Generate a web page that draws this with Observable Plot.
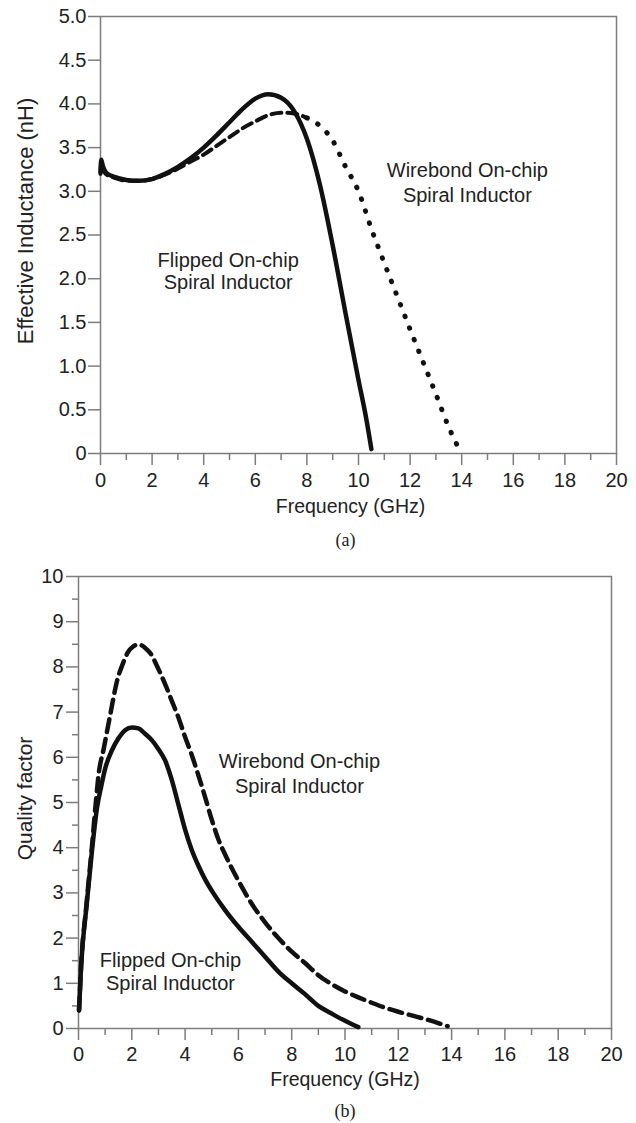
<!DOCTYPE html>
<html>
<head>
<meta charset="utf-8">
<script src="https://cdn.jsdelivr.net/npm/d3@7"></script>
<script src="https://cdn.jsdelivr.net/npm/@observablehq/plot@0.6"></script>
<style>
  body { margin: 0; background: #fff; }
  #chart svg { display: block; }
</style>
</head>
<body>
<div id="chart"></div>
<script>
// ---------- Data (a): effective inductance ----------
const freqFlipA = [0, 0.03, 0.08, 0.2, 0.4, 0.7, 1.0, 1.5, 2.0, 2.5, 3.0, 3.5, 4.0, 4.5, 5.0, 5.5, 6.0, 6.5, 7.0, 7.5, 8.0, 8.5, 9.0, 9.5, 10.0, 10.3, 10.5];
const indFlipA  = [3.22, 3.36, 3.3, 3.22, 3.18, 3.15, 3.13, 3.12, 3.14, 3.2, 3.28, 3.38, 3.5, 3.64, 3.79, 3.94, 4.06, 4.11, 4.07, 3.92, 3.6, 3.08, 2.38, 1.6, 0.84, 0.4, 0.05];

const freqWireA = [0, 0.03, 0.08, 0.2, 0.4, 0.7, 1.0, 1.5, 2.0, 2.5, 3.0, 3.5, 4.0, 4.5, 5.0, 5.5, 6.0, 6.5, 7.0, 7.5, 8.0, 8.5, 9.0, 9.5, 10.0, 10.5, 11.0, 11.5, 12.0, 12.5, 13.0, 13.5, 13.85];
const indWireA  = [3.2, 3.33, 3.28, 3.2, 3.17, 3.14, 3.12, 3.12, 3.14, 3.19, 3.26, 3.34, 3.42, 3.52, 3.62, 3.72, 3.8, 3.87, 3.9, 3.89, 3.84, 3.75, 3.58, 3.28, 3.0, 2.57, 2.18, 1.8, 1.42, 1.05, 0.68, 0.3, 0.08];

// ---------- Data (b): quality factor ----------
const freqFlipB = [0.02, 0.1, 0.3, 0.5, 0.7, 0.85, 1.0, 1.25, 1.5, 1.75, 2.0, 2.25, 2.5, 2.75, 3.0, 3.25, 3.5, 3.75, 4.0, 4.25, 4.5, 4.75, 5.0, 5.5, 6.0, 6.5, 7.0, 7.5, 8.0, 8.5, 9.0, 9.5, 10.0, 10.5];
const qFlipB    = [0.4, 1.4, 2.7, 3.9, 4.9, 5.35, 5.75, 6.15, 6.42, 6.6, 6.66, 6.64, 6.52, 6.38, 6.18, 5.93, 5.5, 4.95, 4.4, 3.95, 3.6, 3.3, 3.05, 2.62, 2.25, 1.92, 1.59, 1.26, 1.0, 0.76, 0.5, 0.33, 0.17, 0.03];

const freqWireB = [0.02, 0.1, 0.3, 0.5, 0.65, 0.75, 0.95, 1.2, 1.45, 1.65, 1.85, 2.05, 2.25, 2.5, 2.7, 3.0, 3.25, 3.5, 3.75, 4.0, 4.25, 4.5, 4.75, 5.0, 5.25, 5.5, 6.0, 6.5, 7.0, 7.5, 8.0, 8.5, 9.0, 9.5, 10.0, 10.5, 11.0, 11.5, 12.0, 12.5, 13.0, 13.5, 13.85];
const qWireB    = [0.4, 1.4, 2.75, 4.0, 5.0, 5.6, 6.2, 6.97, 7.7, 8.05, 8.32, 8.45, 8.5, 8.42, 8.3, 7.95, 7.62, 7.25, 6.88, 6.45, 6.05, 5.6, 5.12, 4.62, 4.18, 3.85, 3.27, 2.76, 2.35, 2.0, 1.7, 1.45, 1.18, 0.98, 0.82, 0.69, 0.57, 0.46, 0.37, 0.29, 0.21, 0.12, 0.05];

// ---------- Ticks and labels ----------
const xTicks = [0, 2, 4, 6, 8, 10, 12, 14, 16, 18, 20];
const xMinorTicks = [1, 3, 5, 7, 9, 11, 13, 15, 17, 19];
const yTicksA = [0, 0.5, 1.0, 1.5, 2.0, 2.5, 3.0, 3.5, 4.0, 4.5, 5.0];
const yTickLabelsA = ["0", "0.5", "1.0", "1.5", "2.0", "2.5", "3.0", "3.5", "4.0", "4.5", "5.0"];
const yTicksB = [0, 1, 2, 3, 4, 5, 6, 7, 8, 9, 10];
const yMinorTicksB = [0.5, 1.5, 2.5, 3.5, 4.5, 5.5, 6.5, 7.5, 8.5, 9.5];

const xTitle = "Frequency (GHz)";
const yTitleA = "Effective Inductance (nH)";
const yTitleB = "Quality factor";
const captionA = "(a)";
const captionB = "(b)";
const flipLabel = "Flipped On-chip\nSpiral Inductor";
const wireLabel = "Wirebond On-chip\nSpiral Inductor";

// ---------- Build ----------
const font = "'Liberation Sans', Arial, Helvetica, sans-serif";
const serif = "'Liberation Serif', 'Times New Roman', serif";
const grey = "#7d7d7d";
const ink = "#111";

const flipA = freqFlipA.map((f, i) => ({f, v: indFlipA[i]}));
const wireA = freqWireA.map((f, i) => ({f, v: indWireA[i]}));
const flipB = freqFlipB.map((f, i) => ({f, v: qFlipB[i]}));
const wireB = freqWireB.map((f, i) => ({f, v: qWireB[i]}));

const plotA = Plot.plot({
  width: 636, height: 560,
  marginLeft: 100, marginRight: 20, marginTop: 16, marginBottom: 107,
  style: {fontFamily: font, fontSize: "20px", color: "#222", background: "#fff"},
  x: {domain: [0, 20]},
  y: {domain: [0, 5]},
  marks: [
    Plot.axisX({ticks: xTicks, tickSize: 12, tickPadding: 7, stroke: grey, strokeWidth: 1.5, label: null, tickFormat: d => String(d)}),
    Plot.axisX({ticks: xMinorTicks, tickSize: 7, text: null, stroke: grey, strokeWidth: 1.5, label: null}),
    Plot.axisY({ticks: yTicksA, tickSize: 12, tickPadding: 2, stroke: grey, strokeWidth: 1.5, label: null,
                tickFormat: d => yTickLabelsA[yTicksA.indexOf(d)]}),
    Plot.frame({stroke: grey, strokeWidth: 1.5}),
    Plot.line(wireA.filter(d => d.f <= 8), {x: "f", y: "v", stroke: ink, strokeWidth: 4, strokeDasharray: "10,6", curve: "monotone-x"}),
    Plot.line(wireA.filter(d => d.f >= 8), {x: "f", y: "v", stroke: ink, strokeWidth: 5, strokeDasharray: "0.5,12", strokeLinecap: "round", curve: "monotone-x"}),
    Plot.line(flipA, {x: "f", y: "v", stroke: ink, strokeWidth: 4.5, curve: "monotone-x"}),
    Plot.text([flipLabel], {x: () => 4.95, y: () => 2.09, text: d => d, fontSize: 20, lineHeight: 1.1, fill: "#222"}),
    Plot.text([wireLabel], {x: () => 14.22, y: () => 3.11, text: d => d, fontSize: 20, lineHeight: 1.25, fill: "#222"}),
    Plot.text([xTitle], {frameAnchor: "bottom", textAnchor: "middle", dy: 59, dx: -8, text: d => d, fontSize: 19.5, fill: "#222"}),
    Plot.text([yTitleA], {frameAnchor: "left", textAnchor: "middle", rotate: -90, dx: -75, dy: -14, text: d => d, fontSize: 22, fill: "#222"}),
    Plot.text([captionA], {frameAnchor: "bottom", textAnchor: "middle", dy: 92, dx: -13, text: d => d, fontSize: 18, fontFamily: serif, fill: "#222"})
  ]
});

const plotB = Plot.plot({
  width: 636, height: 563,
  marginLeft: 78, marginRight: 25, marginTop: 16, marginBottom: 95,
  style: {fontFamily: font, fontSize: "20px", color: "#222", background: "#fff"},
  x: {domain: [0, 20]},
  y: {domain: [0, 10]},
  marks: [
    Plot.axisX({ticks: xTicks, tickSize: 12, tickPadding: 6, stroke: grey, strokeWidth: 1.5, label: null, tickFormat: d => String(d)}),
    Plot.axisX({ticks: xMinorTicks, tickSize: 7, text: null, stroke: grey, strokeWidth: 1.5, label: null}),
    Plot.axisY({ticks: yTicksB, tickSize: 12, tickPadding: 3, stroke: grey, strokeWidth: 1.5, label: null, tickFormat: d => String(d)}),
    Plot.axisY({ticks: yMinorTicksB, tickSize: 6, text: null, stroke: grey, strokeWidth: 1.5, label: null}),
    Plot.frame({stroke: grey, strokeWidth: 1.5}),
    Plot.line(wireB, {x: "f", y: "v", stroke: ink, strokeWidth: 4.5, strokeDasharray: "13,7", curve: "monotone-x"}),
    Plot.line(flipB, {x: "f", y: "v", stroke: ink, strokeWidth: 4.5, curve: "monotone-x"}),
    Plot.text([wireLabel], {x: () => 8.29, y: () => 5.67, text: d => d, fontSize: 20, lineHeight: 1.25, fill: "#222"}),
    Plot.text([flipLabel], {x: () => 3.45, y: () => 1.27, text: d => d, fontSize: 20, lineHeight: 1.15, fill: "#222"}),
    Plot.text([xTitle], {frameAnchor: "bottom", textAnchor: "middle", dy: 57, text: d => d, fontSize: 19.5, fill: "#222"}),
    Plot.text([yTitleB], {frameAnchor: "left", textAnchor: "middle", rotate: -90, dx: -53, dy: -4, text: d => d, fontSize: 21, fill: "#222"}),
    Plot.text([captionB], {frameAnchor: "bottom", textAnchor: "middle", dy: 88, text: d => d, fontSize: 18, fontFamily: serif, fill: "#222"})
  ]
});

document.getElementById("chart").append(plotA, plotB);
</script>
</body>
</html>
